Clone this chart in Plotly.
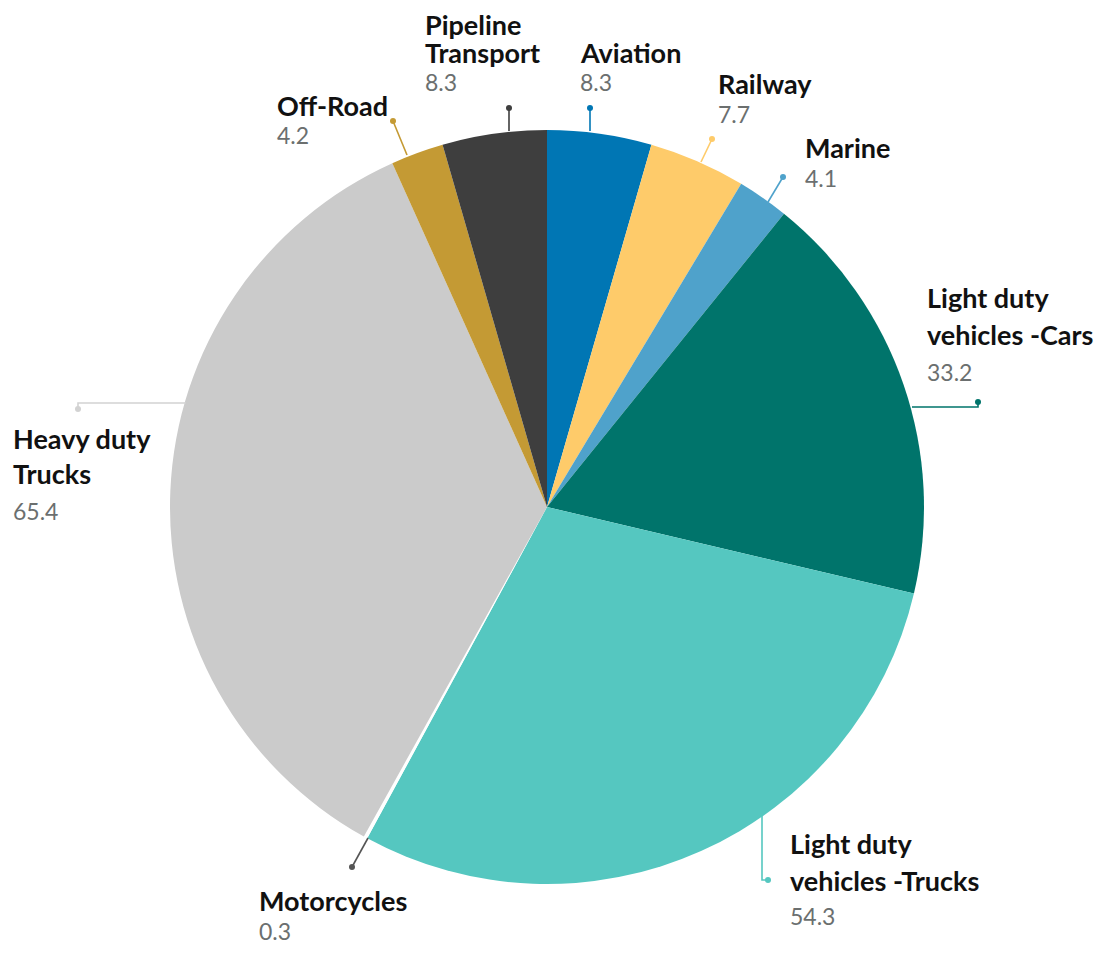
import plotly.graph_objects as go

# window is 1109x953; page body has 8px margin, so figure is drawn offset by 8px
WIN_W, WIN_H = 1109, 953
OFF = 8
FW, FH = WIN_W - 2 * OFF, WIN_H - 2 * OFF

# ---- data ----
categories = ["Aviation", "Railway", "Marine", "Light duty<br>vehicles -Cars",
              "Light duty<br>vehicles -Trucks", "Motorcycles", "Heavy duty<br>Trucks",
              "Off-Road", "Pipeline<br>Transport"]
values = [8.3, 7.7, 4.1, 33.2, 54.3, 0.3, 65.4, 4.2, 8.3]
value_labels = ["8.3", "7.7", "4.1", "33.2", "54.3", "0.3", "65.4", "4.2", "8.3"]

# ---- styles ----
slice_colors = ["#0076b4", "#fecb6a", "#4fa2cb", "#00746b", "#55c7c0",
                "#ffffff", "#cbcbcb", "#c49a34", "#3e3e3e"]
line_colors = ["#0076b4", "#fecb6a", "#4fa2cb", "#00746b", "#55c7c0",
               "#555555", "#d2d2d2", "#c49a34", "#3e3e3e"]

# pie placement in window pixels
CX, CY, R = 547, 507, 377

# label layout (window pixel positions): left x, y centres of name lines, y of value
label_layout = [
    dict(x=578, name_y=[53], val_y=82, path=[(590, 131), (590, 108)]),
    dict(x=716, name_y=[84], val_y=114, path=[(701, 162), (712, 139)]),
    dict(x=803, name_y=[148], val_y=178, path=[(768, 202), (783, 177)]),
    dict(x=925, name_y=[297, 334], val_y=372, path=[(912, 407), (978, 407), (978, 402)]),
    dict(x=788, name_y=[843, 880], val_y=916, path=[(762, 816), (762, 880), (768, 880)]),
    dict(x=257, name_y=[900], val_y=931, path=[(368, 838), (352, 867)]),
    dict(x=11, name_y=[438, 473], val_y=511, path=[(186, 403), (78, 403), (78, 409)]),
    dict(x=275, name_y=[105], val_y=135, path=[(407, 155), (393, 121)]),
    dict(x=423, name_y=[24, 53], val_y=82, path=[(509, 131), (509, 108)]),
]

def px(x):
    return (x - OFF) / FW

def py(y):
    return 1 - (y - OFF) / FH

fig = go.Figure()
fig.add_trace(go.Pie(
    labels=[c.replace("<br>", " ") for c in categories],
    values=values,
    sort=False,
    direction="clockwise",
    rotation=0,
    marker=dict(colors=slice_colors, line=dict(width=0)),
    textinfo="none",
    showlegend=False,
    domain=dict(x=[px(CX - R), px(CX + R)], y=[py(CY + R), py(CY - R)]),
))

NAME_FONT = dict(family="Lato, 'Open Sans', sans-serif", size=27, color="#111111")
VAL_FONT = dict(family="Lato, 'Open Sans', sans-serif", size=23, color="#6b6f6f")

for i, lay in enumerate(label_layout):
    lines = categories[i].split("<br>")
    for txt, yy in zip(lines, lay["name_y"]):
        fig.add_annotation(x=px(lay["x"]), y=py(yy), xref="paper", yref="paper",
                           text=f"<b>{txt}</b>", showarrow=False, xanchor="left",
                           yanchor="middle", font=NAME_FONT)
    fig.add_annotation(x=px(lay["x"]), y=py(lay["val_y"]), xref="paper", yref="paper",
                       text=value_labels[i], showarrow=False, xanchor="left",
                       yanchor="middle", font=VAL_FONT)
    pts = lay["path"]
    d = "M " + " L ".join(f"{px(a)},{py(b)}" for a, b in pts)
    fig.add_shape(type="path", path=d, xref="paper", yref="paper",
                  line=dict(color=line_colors[i], width=1.6))
    ex, ey = pts[-1]
    fig.add_shape(type="circle", xref="paper", yref="paper",
                  x0=px(ex - 3), x1=px(ex + 3), y0=py(ey + 3), y1=py(ey - 3),
                  fillcolor=line_colors[i], line=dict(width=0))

fig.update_layout(
    width=FW, height=FH,
    margin=dict(l=0, r=0, t=0, b=0),
    paper_bgcolor="white", plot_bgcolor="white",
)

fig.write_html("out.html")
